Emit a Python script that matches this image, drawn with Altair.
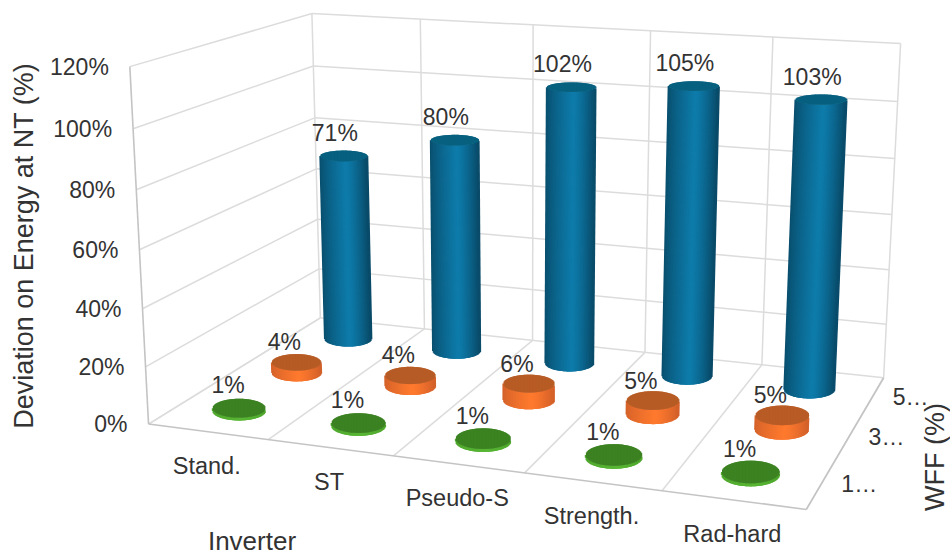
import altair as alt
import numpy as np
import pandas as pd

# Chart content
inverters = ["Stand.", "ST", "Pseudo-S", "Strength.", "Rad-hard"]
wff_labels = ["1…", "3…", "5…"]
wff_front = [1, 1, 1, 1, 1]
wff_middle = [4, 4, 6, 5, 5]
wff_back = [71, 80, 102, 105, 103]
value_ticks = [0, 20, 40, 60, 80, 100, 120]

W, H = 950, 557
FONT = "Liberation Sans"
TEXT = "#333333"
GRID = "#dcdcdc"
EDGE = "#c4c4c4"

# Camera calibration: (inverter slot, wff slot, percent) -> page position
camera_world = np.array([
    [0, 0, 0], [1, 0, 0], [2, 0, 0], [3, 0, 0], [4, 0, 0], [5, 0, 0],
    [0, 3, 0], [1, 3, 0], [3, 3, 0], [4, 3, 0], [5, 3, 0],
    [0, 0, 120], [0, 0, 100], [0, 0, 80], [0, 0, 60], [0, 0, 40], [0, 0, 20],
    [0, 3, 120], [1, 3, 120], [2, 3, 120], [3, 3, 120], [4, 3, 120], [5, 3, 120],
    [5, 3, 100], [5, 3, 80], [5, 3, 60],
], dtype=float)
camera_page = np.array([
    [147, 424], [268, 439], [393, 455], [525, 473], [663, 491], [806, 510],
    [321, 318], [425, 329], [645, 352], [763, 366], [883, 378],
    [129, 67], [134, 129], [137, 190], [140, 250], [143, 308], [145, 367],
    [311, 13], [420, 19], [533, 25], [651, 32], [773, 38], [902, 43],
    [898, 100], [894, 158], [890, 214],
], dtype=float)


def fit_camera(world, page):
    rows, rhs = [], []
    for (a, b, c), (px, py) in zip(world, page):
        rows.append([a, b, c, 1, 0, 0, 0, 0, -px * a, -px * b, -px * c])
        rhs.append(px)
        rows.append([0, 0, 0, 0, a, b, c, 1, -py * a, -py * b, -py * c])
        rhs.append(py)
    sol = np.linalg.lstsq(np.array(rows), np.array(rhs), rcond=None)[0]
    return np.append(sol, 1.0).reshape(3, 4)


CAM = fit_camera(camera_world, camera_page)


def project(a, b, c):
    a, b, c = np.broadcast_arrays(np.asarray(a, float), np.asarray(b, float), np.asarray(c, float))
    pts = np.stack([a, b, c, np.ones_like(a)], axis=-1) @ CAM.T
    return pts[..., 0] / pts[..., 2], pts[..., 1] / pts[..., 2]


X = alt.X("x:Q", scale=alt.Scale(domain=[0, W], range=[0, W], nice=False, zero=False), axis=None)
Y = alt.Y("y:Q", scale=alt.Scale(domain=[H, 0], range=[H, 0], nice=False, zero=False), axis=None)


def segments(pairs, color, width):
    rows = []
    for p, q in pairs:
        x, y = project(*p)
        x2, y2 = project(*q)
        rows.append(dict(x=float(x), y=float(y), x2=float(x2), y2=float(y2)))
    return alt.Chart(pd.DataFrame(rows)).mark_rule(color=color, strokeWidth=width).encode(
        x=X, y=Y, x2="x2:Q", y2="y2:Q"
    )


grid_pairs = []
for v in value_ticks:
    grid_pairs.append(((0, 3, v), (5, 3, v)))
    grid_pairs.append(((0, 0, v), (0, 3, v)))
for u in range(len(inverters) + 1):
    grid_pairs.append(((u, 3, 0), (u, 3, 120)))
    grid_pairs.append(((u, 0, 0), (u, 3, 0)))
grid = segments(grid_pairs, GRID, 1.5)

frame = segments(
    [((0, 0, 0), (5, 0, 0)), ((5, 0, 0), (5, 3, 0)), ((0, 0, 0), (0, 0, 120))],
    EDGE, 1.6,
)


def hex_mix(c1, c2, t):
    a = np.array([int(c1[i:i + 2], 16) for i in (1, 3, 5)], float)
    b = np.array([int(c2[i:i + 2], 16) for i in (1, 3, 5)], float)
    m = a + (b - a) * t
    return "#%02x%02x%02x" % tuple(int(round(k)) for k in m)


def disc(u, v, value, radius_u, radius_v, base_width):
    """Centre and half-axes of the level ellipse of a cylinder at a given percent."""
    cx, cy = project(u, v, value)
    x0, _ = project(u - radius_u, v, value)
    x1, _ = project(u + radius_u, v, value)
    _, y0 = project(u, v - radius_v, value)
    _, y1 = project(u, v + radius_v, value)
    half_w = 0.55 * abs(float(x1 - x0)) / 2 + base_width
    return float(cx), float(cy), half_w, abs(float(y1 - y0)) / 2


def cylinder(u, v, value, radius_u, radius_v, base_width, dark_l, light, dark_r, cap_color):
    """Body strips and top-cap chords for one cylinder."""
    bcx, bcy, ba, bb = disc(u, v, 0, radius_u, radius_v, base_width)
    tcx, tcy, ta, tb = disc(u, v, value, radius_u, radius_v, base_width)

    strips = []
    for s in np.arange(-1, 1.0001, 1.5 / (ba + ta)):
        h = np.sqrt(max(1 - s * s, 0))
        shade = (s + 1) / 2
        if shade < 0.55:
            col = hex_mix(dark_l, light, (shade / 0.55) ** 0.8)
        else:
            col = hex_mix(light, dark_r, ((shade - 0.55) / 0.45) ** 1.3)
        strips.append(dict(
            x=bcx + ba * s, y=bcy + bb * h,
            x2=tcx + ta * s, y2=tcy + tb * h, shade=col,
        ))

    cap = []
    for s in np.arange(-1, 1.0001, 0.75 / ta):
        h = np.sqrt(max(1 - s * s, 0))
        cap.append(dict(x=tcx + ta * s, y=tcy - tb * h, x2=tcx + ta * s, y2=tcy + tb * h, shade=cap_color))
    return strips, cap


series = [
    # (values, depth slot, base width, body left, body light, body right, cap, label offset)
    (wff_back, 2.5, 12.0, "#094f6e", "#0e7cab", "#094a68", "#07607f", (-9, -22)),
    (wff_middle, 1.5, 12.8, "#d4622a", "#ff7a2e", "#d2602a", "#b85c26", (-12, -19)),
    (wff_front, 0.5, 14.0, "#4ea62c", "#58b634", "#4ea62c", "#3c8222", (-11, -22)),
]

RU, RV = 0.19, 0.235
layers = [grid, frame]
label_rows = []
for vals, depth, base_w, dl, li, dr, cap_col, (ox, oy) in series:
    strips, caps = [], []
    for i, val in enumerate(vals):
        s, c = cylinder(i + 0.5, depth, val, RU, RV, base_w, dl, li, dr, cap_col)
        strips += s
        caps += c
        cx, cy = project(i + 0.5, depth, val)
        label_rows.append(dict(x=float(cx) + ox, y=float(cy) + oy, label=f"{val}%"))
    layers.append(
        alt.Chart(pd.DataFrame(strips)).mark_rule(strokeWidth=2.2).encode(
            x=X, y=Y, x2="x2:Q", y2="y2:Q", color=alt.Color("shade:N", scale=None, legend=None)
        )
    )
    layers.append(
        alt.Chart(pd.DataFrame(caps)).mark_rule(strokeWidth=1.6).encode(
            x=X, y=Y, x2="x2:Q", y2="y2:Q", color=alt.Color("shade:N", scale=None, legend=None)
        )
    )


def text_layer(rows, size, align="center", angle=None):
    props = dict(font=FONT, fontSize=size, color=TEXT, align=align, baseline="middle")
    if angle is not None:
        props["angle"] = angle
    return alt.Chart(pd.DataFrame(rows)).mark_text(**props).encode(x=X, y=Y, text="label:N")


layers.append(text_layer(label_rows, 23))

# Percent axis along the front-left wall edge
pct_rows = []
for v in value_ticks:
    px, py = project(0, 0, v)
    pct_rows.append(dict(x=float(px) - 21, y=float(py) + 1, label=f"{v}%"))
layers.append(text_layer(pct_rows, 23, align="right"))

# Inverter labels under the front floor edge
cat_rows = []
for i, name in enumerate(inverters):
    px, py = project(i + 0.5, 0, 0)
    cat_rows.append(dict(x=float(px) - 1, y=float(py) + 35, label=name))
layers.append(text_layer(cat_rows, 23.5))

# WFF labels beside the right floor edge
wff_rows = []
for j, name in enumerate(wff_labels):
    px, py = project(5, j + 0.5, 0)
    wff_rows.append(dict(x=float(px) + 20, y=float(py) + 1, label=name))
layers.append(text_layer(wff_rows, 23, align="left"))

# Axis titles
layers.append(text_layer([dict(x=252, y=542, label="Inverter")], 26))
layers.append(text_layer([dict(x=25, y=246, label="Deviation on Energy at NT (%)")], 27, angle=270))
layers.append(text_layer([dict(x=936, y=457, label="WFF (%)")], 27, angle=270))

chart = (
    alt.layer(*layers)
    .properties(width=W, height=H, padding=0, autosize=alt.AutoSizeParams(type="none"), background="white")
    .configure_view(stroke=None)
)
chart.save("out.html", embed_options={"renderer": "svg", "actions": False})
